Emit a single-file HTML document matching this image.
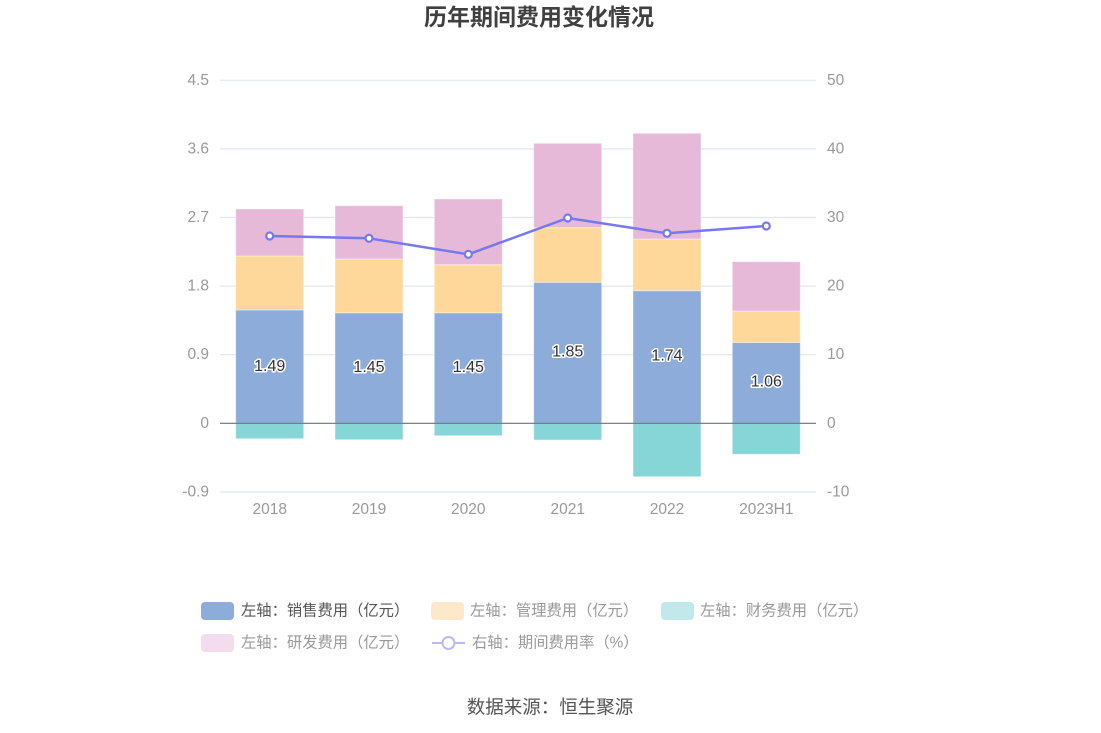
<!DOCTYPE html>
<html><head><meta charset="utf-8"><style>
html,body{margin:0;padding:0;background:#fff;}
svg{display:block;font-family:"Liberation Sans","Noto Sans CJK SC",sans-serif;}
</style></head><body>
<svg width="1101" height="733" viewBox="0 0 1101 733" xmlns="http://www.w3.org/2000/svg">
<rect width="1101" height="733" fill="#fff"/>
<text x="539" y="25" text-anchor="middle" font-size="23" font-weight="bold" fill="#404040" font-family="'Liberation Sans','Noto Sans CJK SC',sans-serif">历年期间费用变化情况</text>

<!-- grid -->
<g stroke="#e0e6f1" stroke-width="1.2">
<line x1="220" x2="816" y1="80.3" y2="80.3"/>
<line x1="220" x2="816" y1="148.9" y2="148.9"/>
<line x1="220" x2="816" y1="217.5" y2="217.5"/>
<line x1="220" x2="816" y1="286.1" y2="286.1"/>
<line x1="220" x2="816" y1="354.7" y2="354.7"/>
<line x1="220" x2="816" y1="491.9" y2="491.9"/>
</g>

<!-- left axis labels -->
<g font-size="15.5" fill="#999" text-anchor="end" dominant-baseline="central">
<text x="209" y="80.3">4.5</text>
<text x="209" y="148.9">3.6</text>
<text x="209" y="217.5">2.7</text>
<text x="209" y="286.1">1.8</text>
<text x="209" y="354.7">0.9</text>
<text x="209" y="423.3">0</text>
<text x="209" y="491.9">-0.9</text>
</g>
<g font-size="15.5" fill="#999" text-anchor="start" dominant-baseline="central">
<text x="827" y="80.3">50</text>
<text x="827" y="148.9">40</text>
<text x="827" y="217.5">30</text>
<text x="827" y="286.1">20</text>
<text x="827" y="354.7">10</text>
<text x="827" y="423.3">0</text>
<text x="827" y="491.9">-10</text>
</g>
<g font-size="15.5" fill="#999" text-anchor="middle" dominant-baseline="central">
<text x="269.7" y="509.5">2018</text>
<text x="369" y="509.5">2019</text>
<text x="468.3" y="509.5">2020</text>
<text x="567.7" y="509.5">2021</text>
<text x="667" y="509.5">2022</text>
<text x="766.3" y="509.5">2023H1</text>
</g>

<!-- bars -->
<g stroke="#fff" stroke-opacity="0.4" stroke-width="1">
<rect x="235.7" y="310" width="68" height="113.3" fill="#8dacd9"/>
<rect x="235.7" y="256" width="68" height="54" fill="#fed89b"/>
<rect x="235.7" y="209" width="68" height="47" fill="#e6b9d9"/>
<rect x="235.7" y="423.3" width="68" height="15.4" fill="#86d6d8"/>
<rect x="335" y="312.8" width="68" height="110.5" fill="#8dacd9"/>
<rect x="335" y="259" width="68" height="53.8" fill="#fed89b"/>
<rect x="335" y="205.7" width="68" height="53.3" fill="#e6b9d9"/>
<rect x="335" y="423.3" width="68" height="16.4" fill="#86d6d8"/>
<rect x="434.3" y="312.8" width="68" height="110.5" fill="#8dacd9"/>
<rect x="434.3" y="264.7" width="68" height="48.1" fill="#fed89b"/>
<rect x="434.3" y="199" width="68" height="65.7" fill="#e6b9d9"/>
<rect x="434.3" y="423.3" width="68" height="12.4" fill="#86d6d8"/>
<rect x="533.7" y="282.3" width="68" height="141" fill="#8dacd9"/>
<rect x="533.7" y="227.7" width="68" height="54.6" fill="#fed89b"/>
<rect x="533.7" y="143.3" width="68" height="84.4" fill="#e6b9d9"/>
<rect x="533.7" y="423.3" width="68" height="16.7" fill="#86d6d8"/>
<rect x="633" y="290.7" width="68" height="132.6" fill="#8dacd9"/>
<rect x="633" y="239" width="68" height="51.7" fill="#fed89b"/>
<rect x="633" y="133.3" width="68" height="105.7" fill="#e6b9d9"/>
<rect x="633" y="423.3" width="68" height="53.4" fill="#86d6d8"/>
<rect x="732.3" y="342.5" width="68" height="80.8" fill="#8dacd9"/>
<rect x="732.3" y="311" width="68" height="31.5" fill="#fed89b"/>
<rect x="732.3" y="261.7" width="68" height="49.3" fill="#e6b9d9"/>
<rect x="732.3" y="423.3" width="68" height="31" fill="#86d6d8"/>
</g>

<!-- zero line -->
<line x1="220" x2="816" y1="423.3" y2="423.3" stroke="#6e7079" stroke-width="1.2"/>

<!-- data labels -->
<g font-size="16" fill="#333" text-anchor="middle" dominant-baseline="central" stroke="#fff" stroke-width="3" paint-order="stroke" stroke-linejoin="round">
<text x="269.7" y="366.5">1.49</text>
<text x="369" y="367.5">1.45</text>
<text x="468.3" y="367.5">1.45</text>
<text x="567.7" y="352">1.85</text>
<text x="667" y="356">1.74</text>
<text x="766.3" y="382">1.06</text>
</g>

<!-- line -->
<polyline points="269.7,236 369,238.3 468.3,254.3 567.7,218 667,233.3 766.3,226" fill="none" stroke="#7678ef" stroke-width="2.5" stroke-linejoin="round"/>
<g fill="#fff" stroke="#7678ef" stroke-width="2.2">
<circle cx="269.7" cy="236" r="3.5"/>
<circle cx="369" cy="238.3" r="3.5"/>
<circle cx="468.3" cy="254.3" r="3.5"/>
<circle cx="567.7" cy="218" r="3.5"/>
<circle cx="667" cy="233.3" r="3.5"/>
<circle cx="766.3" cy="226" r="3.5"/>
</g>

<!-- legend -->
<g font-size="15.3" dominant-baseline="central">
<rect x="201" y="602" width="33" height="18" rx="4" fill="#8dacd9"/>
<text x="241" y="611" fill="#555">左轴：销售费用（亿元）</text>
<rect x="431" y="602" width="33" height="18" rx="4" fill="#fde9c9"/>
<text x="470" y="611" fill="#999">左轴：管理费用（亿元）</text>
<rect x="661" y="602" width="33" height="18" rx="4" fill="#c1e9eb"/>
<text x="700" y="611" fill="#999">左轴：财务费用（亿元）</text>
<rect x="201" y="634" width="33" height="18" rx="4" fill="#f2dcee"/>
<text x="241" y="643" fill="#999">左轴：研发费用（亿元）</text>
<line x1="432" x2="465" y1="643" y2="643" stroke="#b9b9f6" stroke-width="2"/>
<circle cx="448.5" cy="643" r="6" fill="#fff" stroke="#b9b9f6" stroke-width="2"/>
<text x="472" y="643" fill="#999">右轴：期间费用率（%）</text>
</g>

<text x="550" y="707" text-anchor="middle" dominant-baseline="central" font-size="18.5" fill="#555">数据来源：恒生聚源</text>
</svg>
</body></html>
